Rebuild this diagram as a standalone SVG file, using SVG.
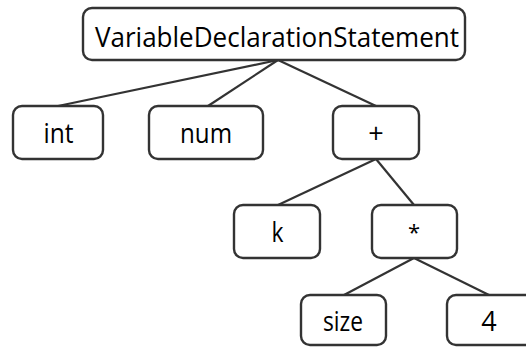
<svg xmlns="http://www.w3.org/2000/svg" width="526" height="347" viewBox="0 0 526 347">
  <style>
    .box { fill: #ffffff; stroke: #333333; stroke-width: 2.4; }
    .edge { stroke: #333333; stroke-width: 2.2; fill: none; }
    .lbl { font-family: "Open Sans", "Noto Sans", sans-serif; font-size: 27px; fill: #000000; text-anchor: middle; }
  </style>
  <rect width="526" height="347" fill="#ffffff"/>
  <g id="connectors">
    <line class="edge" x1="278" y1="60" x2="58" y2="106"/>
    <line class="edge" x1="278" y1="60" x2="208" y2="106"/>
    <line class="edge" x1="278" y1="60" x2="376" y2="106"/>
    <line class="edge" x1="376" y1="159" x2="278" y2="205"/>
    <line class="edge" x1="376" y1="159" x2="414" y2="205"/>
    <line class="edge" x1="414" y1="258" x2="344" y2="295"/>
    <line class="edge" x1="414" y1="258" x2="489" y2="295"/>
  </g>
  <g id="root">
    <rect class="box" x="83" y="8" width="382" height="52" rx="9"/>
    <text class="lbl" x="277" y="47" textLength="364" lengthAdjust="spacingAndGlyphs">VariableDeclarationStatement</text>
  </g>
  <g id="int">
    <rect class="box" x="13" y="106" width="90" height="53" rx="9"/>
    <text class="lbl" x="58.5" y="143" textLength="30" lengthAdjust="spacingAndGlyphs">int</text>
  </g>
  <g id="num">
    <rect class="box" x="149" y="106" width="114" height="53" rx="9"/>
    <text class="lbl" x="206" y="143" textLength="52" lengthAdjust="spacingAndGlyphs">num</text>
  </g>
  <g id="plus">
    <rect class="box" x="333" y="106" width="86" height="53" rx="9"/>
    <text class="lbl" x="376" y="143">+</text>
  </g>
  <g id="k">
    <rect class="box" x="234" y="205" width="86" height="53" rx="9"/>
    <text class="lbl" x="277.5" y="242" textLength="12" lengthAdjust="spacingAndGlyphs">k</text>
  </g>
  <g id="times">
    <rect class="box" x="372" y="205" width="85" height="53" rx="9"/>
    <text class="lbl" x="414" y="240" style="font-size:22px">*</text>
  </g>
  <g id="size">
    <rect class="box" x="301" y="295" width="85" height="50" rx="9"/>
    <text class="lbl" x="343" y="331" textLength="40" lengthAdjust="spacingAndGlyphs">size</text>
  </g>
  <g id="four">
    <rect class="box" x="447" y="295" width="90" height="50" rx="9"/>
    <text class="lbl" x="489" y="331">4</text>
  </g>
</svg>
